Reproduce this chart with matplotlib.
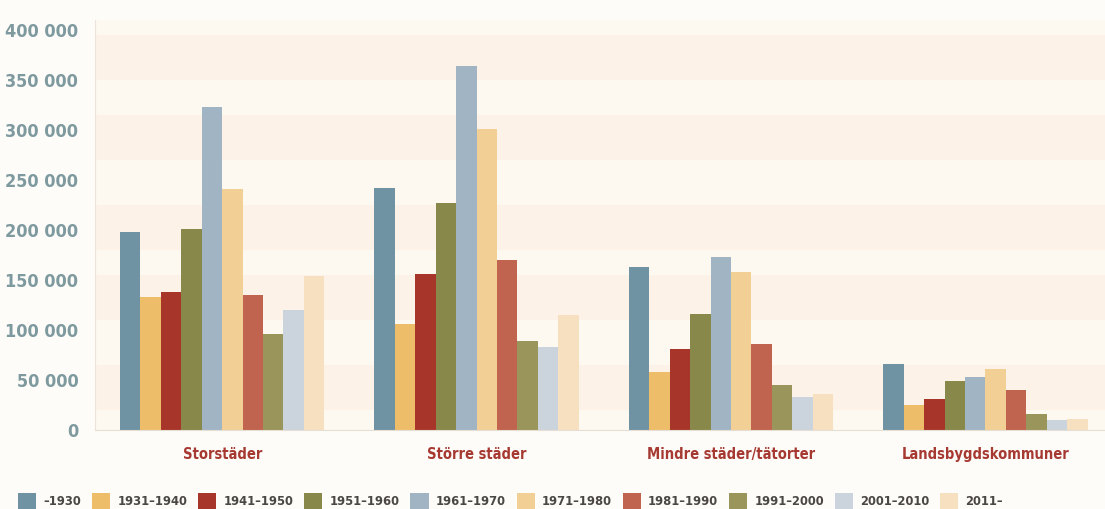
import matplotlib.pyplot as plt
import numpy as np
from matplotlib.ticker import FuncFormatter

FONT = ['DejaVu Sans']

categories = ['Storstäder', 'Större städer', 'Mindre städer/tätorter', 'Landsbygdskommuner']
periods = ['–1930', '1931–1940', '1941–1950', '1951–1960', '1961–1970',
           '1971–1980', '1981–1990', '1991–2000', '2001–2010', '2011–']

storstader = [198000, 133000, 138000, 201000, 323000, 241000, 135000, 96000, 120000, 154000]
storre_stader = [242000, 106000, 156000, 227000, 364000, 301000, 170000, 89000, 83000, 115000]
mindre_stader = [163000, 58000, 81000, 116000, 173000, 158000, 86000, 45000, 33000, 36000]
landsbygd = [66000, 25000, 31000, 49000, 53000, 61000, 40000, 16000, 10000, 11000]

colors = ['#6f93a3', '#eebd6a', '#a8352a', '#87884a', '#a0b4c3',
          '#f2cf95', '#c0634f', '#9a955a', '#cbd4dc', '#f7e0bf']

y_ticks = [0, 50000, 100000, 150000, 200000, 250000, 300000, 350000, 400000]


def main():
    values = np.array([storstader, storre_stader, mindre_stader, landsbygd])
    x = np.arange(len(categories))
    width = 0.0803

    fig = plt.figure(figsize=(11.05, 5.09), dpi=100)
    fig.patch.set_facecolor('#fefcf9')
    ax = fig.add_axes([95 / 1105, 79 / 509, 1010 / 1105, 410 / 509])
    ax.set_facecolor('#fdf8f0')

    # faint horizontal bands in the background
    for lo in [20000, 110000, 180000, 270000, 350000]:
        ax.axhspan(lo, lo + 45000, color='#fcefe3', alpha=0.6, lw=0, zorder=0)

    for i, period in enumerate(periods):
        offs = (i - 4.5) * width
        ax.bar(x + offs, values[:, i], width=width, color=colors[i],
               label=period, zorder=2)

    ax.set_xlim(-0.5, 3.47)
    ax.set_ylim(0, 410000)
    ax.set_yticks(y_ticks)
    ax.yaxis.set_major_formatter(FuncFormatter(lambda v, p: f'{int(v):,}'.replace(',', ' ')))
    ax.set_xticks(x)
    ax.set_xticklabels(categories)

    for lab in ax.get_yticklabels():
        lab.set_family(FONT)
        lab.set_fontweight('bold')
        lab.set_fontstretch('condensed')
        lab.set_fontsize(13)
        lab.set_color('#7e9a9f')
    for lab in ax.get_xticklabels():
        lab.set_family(FONT)
        lab.set_fontweight('bold')
        lab.set_fontstretch('condensed')
        lab.set_fontsize(10.5)
        lab.set_color('#a63a32')

    ax.tick_params(axis='y', length=0, pad=12)
    ax.tick_params(axis='x', length=0, pad=12)
    for s in ['top', 'right']:
        ax.spines[s].set_visible(False)
    ax.spines['left'].set_color('#ece4da')
    ax.spines['bottom'].set_color('#e6ddd3')

    leg = fig.legend(loc='center left', ncol=10, frameon=False,
                     handlelength=1.4, handleheight=1.55,
                     handletextpad=0.55, columnspacing=0.85,
                     prop={'family': FONT, 'weight': 'bold', 'size': 9.3,
                           'stretch': 'condensed'})
    for t in leg.get_texts():
        t.set_color('#4a4745')
    leg.set_bbox_to_anchor((0.006, 1 - 501 / 509), transform=fig.transFigure)

    fig.savefig('out.png', dpi=100, facecolor=fig.get_facecolor())


if __name__ == '__main__':
    main()
